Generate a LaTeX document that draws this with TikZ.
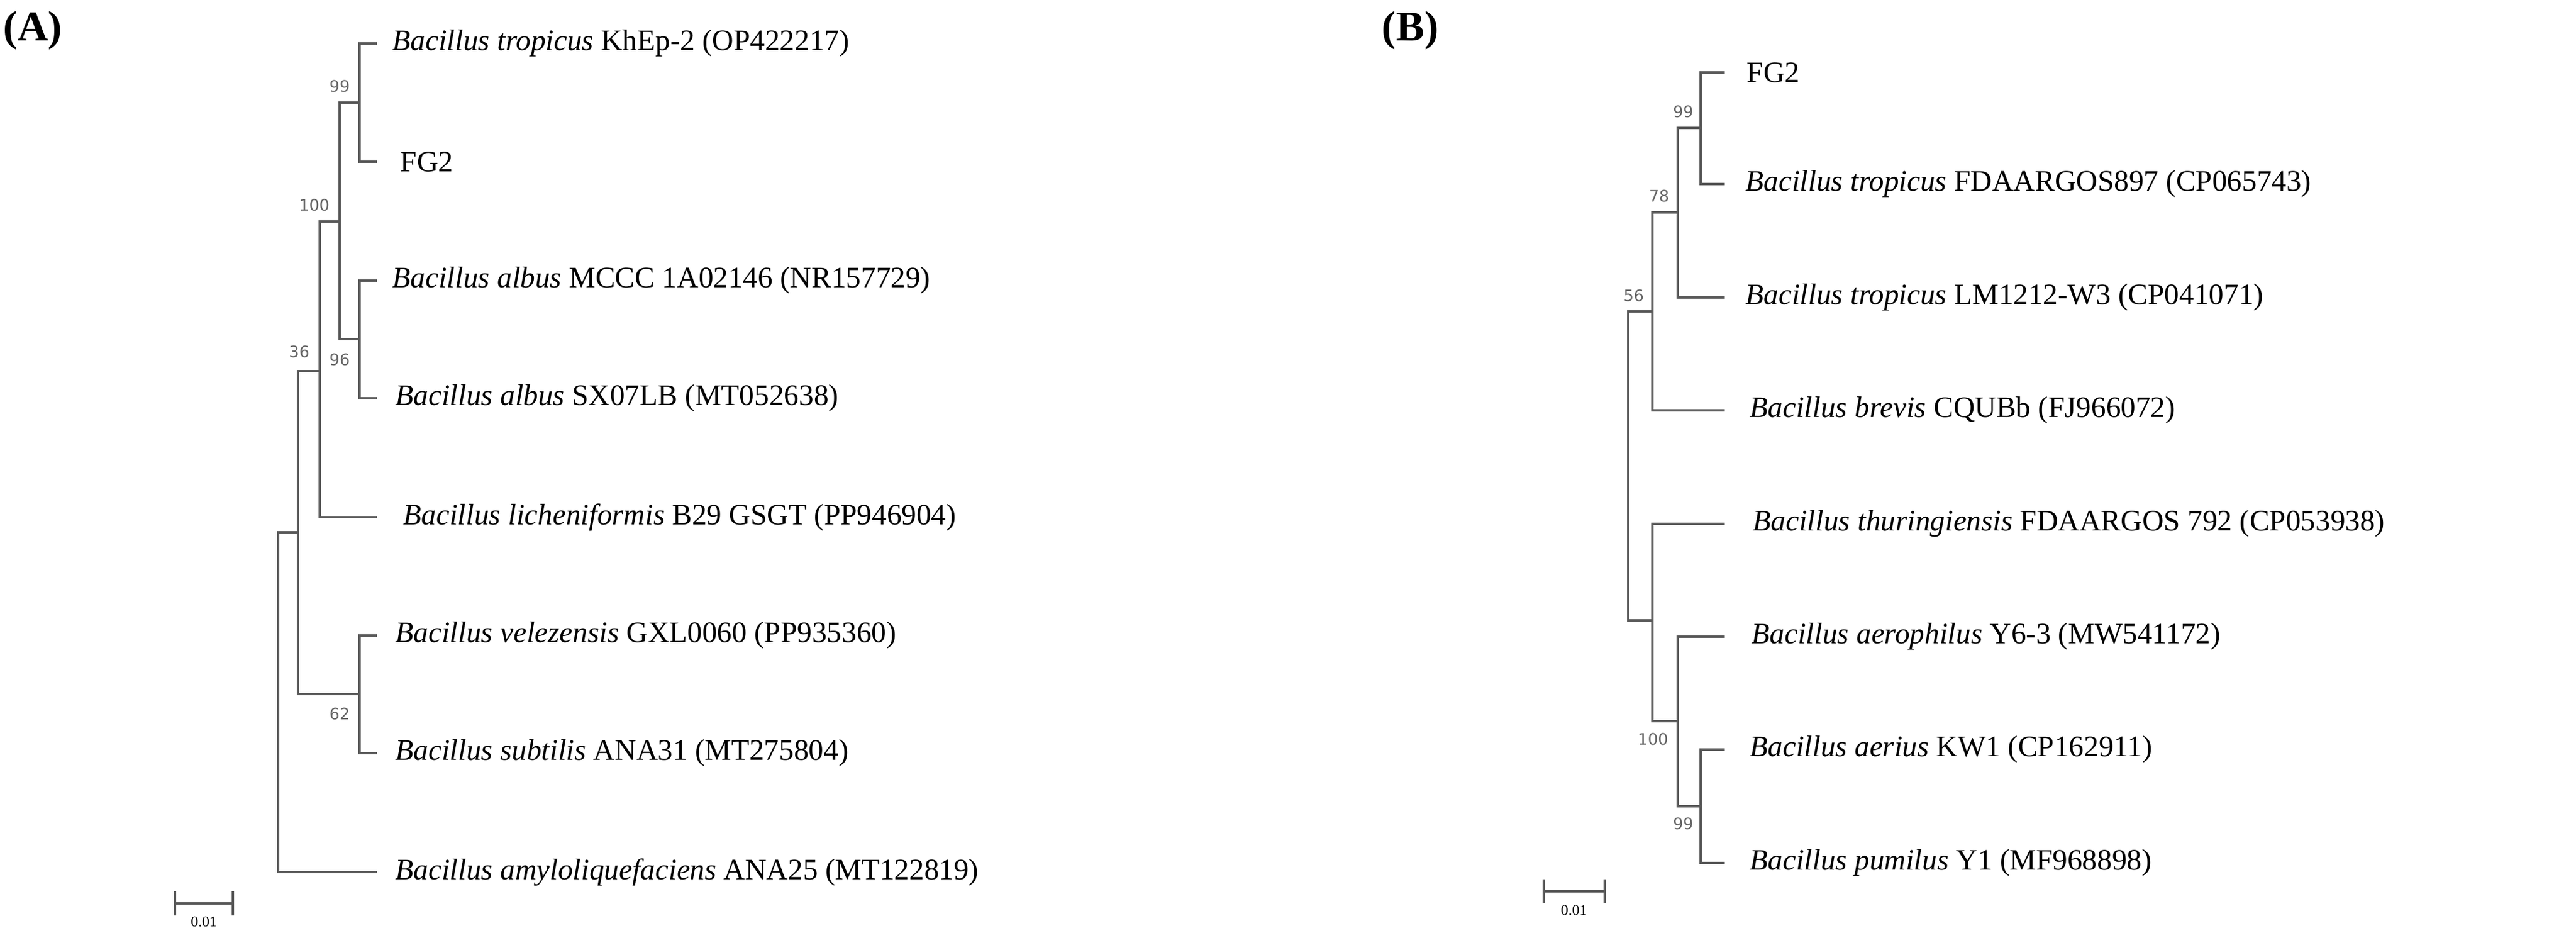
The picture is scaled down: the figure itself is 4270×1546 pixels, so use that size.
\documentclass[tikz,border=0pt]{standalone}
\usepackage{fontspec}
\setmainfont{Liberation Serif}
\newfontfamily\bsfont{DejaVu Sans}
\begin{document}
\begin{tikzpicture}[x=0.01cm,y=-0.01cm,
  br/.style={draw=black!65,line width=0.9pt},
  lf/.style={anchor=west,inner sep=0pt,font=\fontsize{14}{16}\selectfont},
  bs/.style={inner sep=0pt,font=\bsfont\fontsize{7.5}{9}\selectfont,text=black!60},
  pl/.style={anchor=north west,inner sep=0pt,font=\bfseries\fontsize{20}{24}\selectfont}]
\useasboundingbox (0,0) rectangle (4270,1546);
\node[pl] (pa) at (5,18) {(A)};
\node[pl] (pb) at (2290,18) {(B)};
% ---------- Tree A ----------
\coordinate (a1) at (625,72);  \coordinate (a2) at (625,268);
\coordinate (a3) at (625,465); \coordinate (a4) at (625,660);
\coordinate (a5) at (625,857); \coordinate (a6) at (625,1053);
\coordinate (a7) at (625,1248);\coordinate (a8) at (625,1445);
\coordinate (n99) at (596,170); \coordinate (n96) at (596,562);
\coordinate (n100) at (563,367); \coordinate (nC) at (530,615);
\coordinate (n62) at (596,1150); \coordinate (n36) at (494,882);
\coordinate (nR) at (461,1445);
\draw[br] (a1) -| (n99) |- (a2);
\draw[br] (a3) -| (n96) |- (a4);
\draw[br] (n99) -| (n100) |- (n96);
\draw[br] (n100) -| (nC) |- (a5);
\draw[br] (a6) -| (n62) |- (a7);
\draw[br] (nC) -| (n36) |- (n62);
\draw[br] (n36) -| (nR) -- (a8);
\node[bs] (b1) at (563,143) {99};
\node[bs] (b2) at (521,340) {100};
\node[bs] (b3) at (563,596) {96};
\node[bs] (b4) at (496,583) {36};
\node[bs] (b5) at (563,1183) {62};
\node[lf] (t1) at (650,72) {\textit{Bacillus tropicus} KhEp-2 (OP422217)};
\node[lf] (t2) at (663,268) {FG2};
\node[lf] (t3) at (650,465) {\textit{Bacillus albus} MCCC 1A02146 (NR157729)};
\node[lf] (t4) at (655,660) {\textit{Bacillus albus} SX07LB (MT052638)};
\node[lf] (t5) at (668,857) {\textit{Bacillus licheniformis} B29 GSGT (PP946904)};
\node[lf] (t6) at (655,1053) {\textit{Bacillus velezensis} GXL0060 (PP935360)};
\node[lf] (t7) at (655,1248) {\textit{Bacillus subtilis} ANA31 (MT275804)};
\node[lf] (t8) at (655,1445) {\textit{Bacillus amyloliquefaciens} ANA25 (MT122819)};
\coordinate (sa1) at (290,1497); \coordinate (sa2) at (386,1497);
\draw[br] (sa1) -- (sa2);
\draw[br] ([yshift=-0.2cm]sa1) -- ([yshift=0.2cm]sa1);
\draw[br] ([yshift=-0.2cm]sa2) -- ([yshift=0.2cm]sa2);
\node[inner sep=0pt,font=\fontsize{7}{8}\selectfont] (sal) at (338,1527) {0.01};
% ---------- Tree B ----------
\coordinate (c1) at (2859,120);  \coordinate (c2) at (2859,305);
\coordinate (c3) at (2859,493);  \coordinate (c4) at (2859,680);
\coordinate (c5) at (2859,868);  \coordinate (c6) at (2859,1055);
\coordinate (c7) at (2859,1242); \coordinate (c8) at (2859,1430);
\coordinate (m99) at (2819,212); \coordinate (m78) at (2781,352);
\coordinate (m56) at (2739,516); \coordinate (mR) at (2699,1028);
\coordinate (mL) at (2739,1028); \coordinate (m100) at (2781,1195);
\coordinate (m99b) at (2819,1336);
\draw[br] (c1) -| (m99) |- (c2);
\draw[br] (m99) -| (m78) |- (c3);
\draw[br] (m78) -| (m56) |- (c4);
\draw[br] (c7) -| (m99b) |- (c8);
\draw[br] (c6) -| (m100) |- (m99b);
\draw[br] (c5) -| (mL) |- (m100);
\draw[br] (m56) -| (mR) -- (mL);
\node[bs] (e1) at (2790,185) {99};
\node[bs] (e2) at (2750,325) {78};
\node[bs] (e3) at (2708,490) {56};
\node[bs] (e4) at (2740,1225) {100};
\node[bs] (e5) at (2790,1365) {99};
\node[lf] (u1) at (2895,120) {FG2};
\node[lf] (u2) at (2893,305) {\textit{Bacillus tropicus} FDAARGOS897 (CP065743)};
\node[lf] (u3) at (2893,493) {\textit{Bacillus tropicus} LM1212-W3 (CP041071)};
\node[lf] (u4) at (2900,680) {\textit{Bacillus brevis} CQUBb (FJ966072)};
\node[lf] (u5) at (2905,868) {\textit{Bacillus thuringiensis} FDAARGOS 792 (CP053938)};
\node[lf] (u6) at (2903,1055) {\textit{Bacillus aerophilus} Y6-3 (MW541172)};
\node[lf] (u7) at (2900,1242) {\textit{Bacillus aerius} KW1 (CP162911)};
\node[lf] (u8) at (2900,1430) {\textit{Bacillus pumilus} Y1 (MF968898)};
\coordinate (sb1) at (2559,1477); \coordinate (sb2) at (2660,1477);
\draw[br] (sb1) -- (sb2);
\draw[br] ([yshift=-0.2cm]sb1) -- ([yshift=0.2cm]sb1);
\draw[br] ([yshift=-0.2cm]sb2) -- ([yshift=0.2cm]sb2);
\node[inner sep=0pt,font=\fontsize{7}{8}\selectfont] (sbl) at (2609,1508) {0.01};
\end{tikzpicture}
\end{document}
